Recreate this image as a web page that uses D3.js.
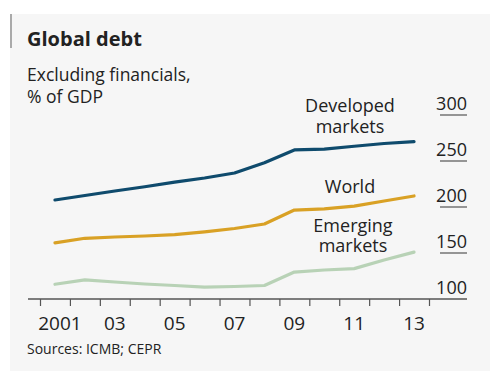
<!DOCTYPE html>
<head>
  <script src="https://cdnjs.cloudflare.com/ajax/libs/d3/7.8.5/d3.min.js"></script>
  <style>
    body { margin: 0; background: #fff; }
    text { font-family: "Open Sans", sans-serif; fill: #222; }
  </style>
</head>
<body>
  <svg></svg>
</body>
<script>
  let width = 490, height = 371;

  let years = [2001, 2002, 2003, 2004, 2005, 2006, 2007, 2008, 2009, 2010, 2011, 2012, 2013];
  let developed = [207.6, 212.5, 217.4, 222, 227, 231.5, 237, 248, 262, 263, 266, 269, 271];
  let world = [161, 166, 167.4, 168.5, 170, 173, 176.6, 181.5, 196.7, 198, 201, 206.5, 212];
  let emerging = [116, 120.7, 118.5, 116.3, 114.7, 113, 113.6, 114.7, 129.3, 131.5, 133, 142.4, 151];
  let yTicks = [100, 150, 200, 250, 300];
  let xLabels = ["2001", "03", "05", "07", "09", "11", "13"];

  let svg = d3.select("svg").attr("width", width).attr("height", height);

  // panel + accent bar
  svg.append("rect").attr("x", 10).attr("y", 14).attr("width", 480).attr("height", 357).attr("fill", "#f6f6f6");
  svg.append("rect").attr("x", 10).attr("y", 14).attr("width", 2).attr("height", 34).attr("fill", "#aaa");

  svg.append("text").attr("x", 27).attr("y", 46).attr("font-size", 20).attr("font-weight", "bold")
    .attr("fill", "#111").text("Global debt");
  svg.append("text").attr("x", 27).attr("y", 81).attr("font-size", 17.5).text("Excluding financials,");
  svg.append("text").attr("x", 27).attr("y", 103).attr("font-size", 17.5).text("% of GDP");

  let x = d3.scaleLinear().domain([2001, 2014]).range([40, 429]);
  let y = d3.scaleLinear().domain([100, 300]).range([299, 115]);

  // y labels with short underlines
  let yg = svg.append("g");
  yg.selectAll("line").data(yTicks.slice(1)).enter().append("line")
    .attr("x1", 440).attr("x2", 467).attr("y1", d => y(d)).attr("y2", d => y(d))
    .attr("stroke", "#555").attr("stroke-width", 1.2);
  yg.selectAll("text").data(yTicks).enter().append("text")
    .attr("x", 467).attr("y", d => y(d) - 5).attr("text-anchor", "end").attr("font-size", 18)
    .text(d => d);

  // x axis
  svg.append("line").attr("x1", 28).attr("x2", 467).attr("y1", y(100)).attr("y2", y(100))
    .attr("stroke", "#555").attr("stroke-width", 1.5);
  let xAxis = d3.axisBottom(x).tickValues(d3.range(2001, 2015)).tickSize(7).tickFormat("");
  let xg = svg.append("g").attr("transform", "translate(0," + y(100) + ")").call(xAxis);
  xg.select(".domain").remove();
  xg.selectAll(".tick line").attr("stroke", "#555").attr("stroke-width", 1.2);
  svg.selectAll(".xlab").data(xLabels).enter().append("text").attr("class", "xlab")
    .attr("x", (d, i) => x(2001 + i * 2 + 0.5) + (i === 0 ? 5 : 0)).attr("y", 330).attr("text-anchor", "middle")
    .attr("font-size", 19).text(d => d);

  svg.append("text").attr("x", 27).attr("y", 354).attr("font-size", 14).attr("fill", "#333")
    .text("Sources: ICMB; CEPR");

  // lines
  let series = [
    {values: emerging, color: "#b8d2b6"},
    {values: world, color: "#d9a125"},
    {values: developed, color: "#0f4b6d"}
  ];
  let line = d3.line().x((d, i) => x(years[i] + 0.5)).y(d => y(d));
  svg.selectAll(".series").data(series).enter().append("path")
    .attr("d", d => line(d.values)).attr("fill", "none")
    .attr("stroke", d => d.color).attr("stroke-width", 3.2).attr("stroke-linejoin", "round").attr("stroke-linecap", "round");

  // series labels
  let labels = [
    {lines: ["Developed", "markets"], x: 350, y: 112, gap: 21},
    {lines: ["World"], x: 350, y: 193, gap: 0},
    {lines: ["Emerging", "markets"], x: 353, y: 231.5, gap: 20.5}
  ];
  labels.forEach(function(l) {
    let t = svg.append("text").attr("text-anchor", "middle").attr("font-size", 18);
    l.lines.forEach(function(s, i) {
      t.append("tspan").attr("x", l.x).attr("y", l.y + i * l.gap).text(s);
    });
  });
</script>
